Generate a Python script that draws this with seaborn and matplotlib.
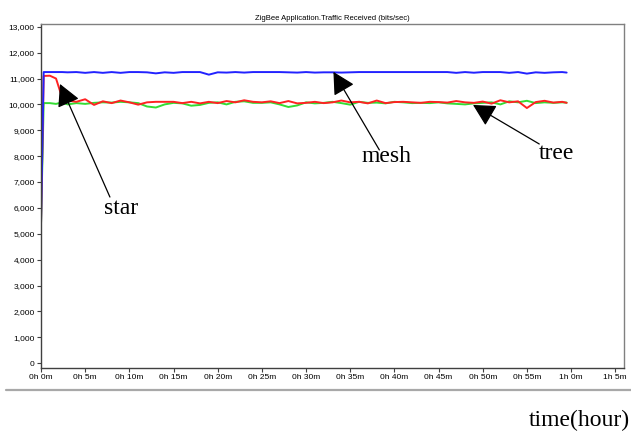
import numpy as np
import pandas as pd
import matplotlib
matplotlib.use("Agg")
import matplotlib.pyplot as plt
from matplotlib.lines import Line2D
import seaborn as sns

# time in minutes
minutes = [0, 0.3, 1, 1.7, 2.4] + list(range(3, 60)) + [59.5]

mesh = [5400, 11250, 11250, 11250, 11250,
        11240, 11250, 11220, 11250, 11220, 11250, 11220, 11250, 11250, 11240,
        11200, 11240, 11220, 11250, 11250, 11250, 11150, 11240, 11230, 11250,
        11230, 11250, 11250, 11250, 11250, 11240, 11230, 11250, 11230, 11240,
        11240, 11230, 11240, 11250, 11250, 11250, 11250, 11250, 11250, 11250,
        11250, 11250, 11250, 11250, 11220, 11250, 11225, 11250, 11250, 11250,
        11220, 11250, 11190, 11240, 11220, 11240, 11250, 11230]

tree = [5400, 10050, 10050, 10020, 10080,
        10000, 10050, 10020, 10060, 10080, 10070, 10100, 10080, 10050, 9920,
        9880, 10000, 10060, 10040, 9950, 9980, 10060, 10080, 10000, 10100,
        10120, 10060, 10060, 10080, 10000, 9900, 9960, 10080, 10040, 10060,
        10100, 10050, 9990, 10100, 10060, 10070, 10040, 10100, 10080, 10050,
        10060, 10050, 10080, 10040, 10020, 10000, 10040, 10060, 10080, 10000,
        10120, 10080, 10140, 10050, 10080, 10060, 10080, 10070]

star = [5400, 11100, 11110, 11000, 10250,
        10150, 10100, 10200, 9980, 10120, 10050, 10150, 10080, 9990, 10080,
        10100, 10100, 10100, 10050, 10100, 10040, 10100, 10050, 10130, 10080,
        10160, 10100, 10080, 10120, 10050, 10130, 10040, 10060, 10100, 10050,
        10080, 10150, 10080, 10100, 10040, 10150, 10050, 10090, 10100, 10080,
        10060, 10100, 10090, 10070, 10130, 10080, 10060, 10110, 10030, 10160,
        10080, 10120, 9860, 10090, 10140, 10070, 10100, 10060]

x_ticks = list(range(0, 66, 5))
x_labels = ["0h 0m", "0h 5m", "0h 10m", "0h 15m", "0h 20m", "0h 25m", "0h 30m",
            "0h 35m", "0h 40m", "0h 45m", "0h 50m", "0h 55m", "1h 0m", "1h 5m"]
y_ticks = list(range(0, 13001, 1000))

df = pd.DataFrame({"minute": minutes * 3,
                   "bits": tree + star + mesh,
                   "topology": ["tree"] * len(tree) + ["star"] * len(star) + ["mesh"] * len(mesh)})

sns.set_style("white")
plt.rcParams["font.family"] = ["Liberation Sans", "DejaVu Sans"]
plt.rcParams["text.color"] = "black"
plt.rcParams["xtick.color"] = "black"
plt.rcParams["ytick.color"] = "black"

fig = plt.figure(figsize=(6.31, 4.33), dpi=100)
ax = fig.add_axes([0.065, 0.150, 0.924, 0.795])

palette = {"tree": "#33dd33", "star": "#ff2222", "mesh": "#2222ff"}
sns.lineplot(data=df, x="minute", y="bits", hue="topology", palette=palette,
             linewidth=1.4, legend=False, ax=ax)

ax.set_xlim(0, 66)
ax.set_ylim(-190, 13115)
ax.set_xticks(x_ticks)
ax.set_xticklabels(x_labels)
ax.set_yticks(y_ticks)
ax.set_yticklabels([f"{v:,}" for v in y_ticks])
ax.tick_params(axis="both", labelsize=6, length=3, width=0.8, pad=1.5,
               direction="out", color="#404040", labelcolor="black",
               bottom=True, left=True)
ax.set_xlabel("")
ax.set_ylabel("")
for side in ["left", "bottom"]:
    ax.spines[side].set_color("#404040")
    ax.spines[side].set_linewidth(1.0)
for side in ["top", "right"]:
    ax.spines[side].set_color("#808080")
    ax.spines[side].set_linewidth(1.0)

ax.set_title("ZigBee Application.Traffic Received (bits/sec)", fontsize=5.5,
             pad=3, color="black")

# arrows and labels
arrow = dict(arrowstyle="-|>,head_length=0.85,head_width=0.45", mutation_scale=16,
             color="black", lw=0.9, shrinkA=0, shrinkB=0)
serif = {"family": "Liberation Serif", "size": 17, "color": "black"}
ax.annotate("", xy=(2.15, 10790), xytext=(7.8, 6420), arrowprops=arrow)
ax.text(9.05, 5960, "star", ha="center", va="center", fontdict=serif)
ax.annotate("", xy=(33.1, 11257), xytext=(38.3, 8240), arrowprops=arrow)
ax.text(39.1, 7970, "mesh", ha="center", va="center", fontdict=serif)
ax.annotate("", xy=(48.9, 9980), xytext=(56.4, 8470), arrowprops=arrow)
ax.text(58.3, 8120, "tree", ha="center", va="center", fontdict=serif)

# frame line under the chart and axis caption
fig.add_artist(Line2D([6 / 631, 1.0], [1 - 390 / 433, 1 - 390 / 433],
                      color="#a8a8a8", lw=1.6, transform=fig.transFigure))
fig.text(0.998, 1 - 420 / 433, "time(hour)", ha="right", va="center",
         fontdict=serif)

fig.savefig("out.png", dpi=100)
